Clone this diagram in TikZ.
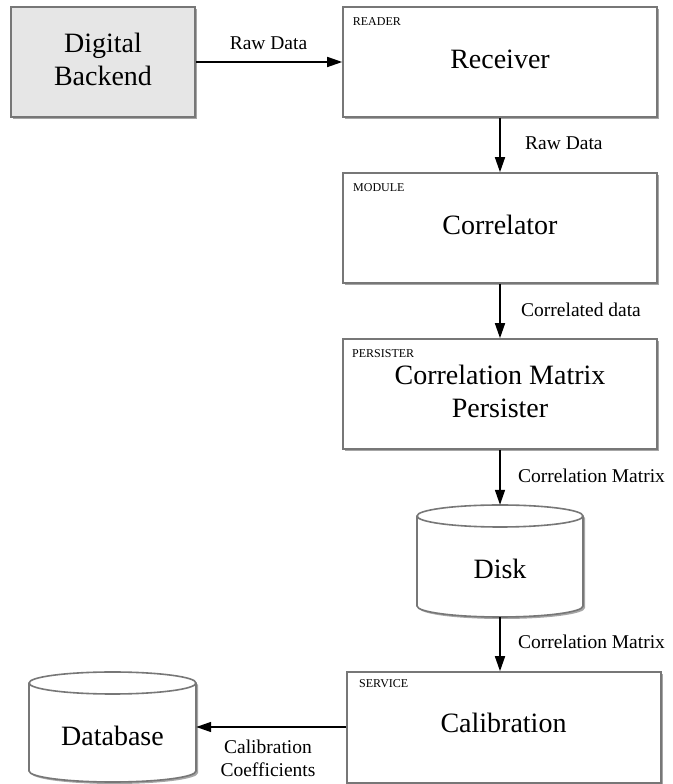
\documentclass[tikz,border=0pt]{standalone}
\usepackage{fontspec}
\setmainfont{Liberation Serif}
\usetikzlibrary{arrows.meta,shadows}
\definecolor{boxgray}{HTML}{777777}
\definecolor{backfill}{HTML}{E6E6E6}
\begin{document}
\begin{tikzpicture}[x=1pt,y=1pt,
  shadowed/.style={drop shadow={shadow xshift=2pt,shadow yshift=-2pt,opacity=0.35,fill=black}},
  comp/.style={draw=boxgray,line width=1.6pt,fill=white,shadowed,
    minimum width=314pt,minimum height=110pt,inner sep=0pt},
  cyl/.style={draw=boxgray,line width=1.6pt,fill=white,shadowed},
  cylline/.style={draw=boxgray,line width=1.6pt},
  anchorbox/.style={inner sep=0pt,minimum width=#1},
  big/.style={font=\fontsize{28}{33}\selectfont,align=center,inner sep=0pt},
  elab/.style={font=\fontsize{19.5}{23}\selectfont,align=center,inner sep=0pt},
  tag/.style={font=\fontsize{12}{14}\selectfont,anchor=west,inner sep=0pt},
  flow/.style={-{Triangle[length=15pt,width=10pt]},line width=1.6pt,black}]
\useasboundingbox (0,0) rectangle (672,784);

% boxes
\node[comp,fill=backfill,minimum width=184pt] (backend) at (103,722) {};
\node[big] (backendt) at (103,725) {Digital\\Backend};

\node[comp] (receiver) at (500,722) {};
\node[tag] (receivertag) at (352.7,762.3) {READER};
\node[big] (receivert) at (500,725) {Receiver};

\node[comp] (correlator) at (500,556) {};
\node[tag] (correlatortag) at (353,596) {MODULE};
\node[big] (correlatort) at (500,559) {Correlator};

\node[comp] (persister) at (500,390) {};
\node[tag] (persistertag) at (352,430) {PERSISTER};
\node[big] (persistert) at (500,392.5) {Correlation Matrix\\Persister};

\node[comp,minimum height=111pt] (calib) at (504,56.5) {};
\node[tag] (calibtag) at (359,100) {SERVICE};
\node[big] (calibt) at (503.5,61) {Calibration};

% Disk cylinder
\node[inner sep=0pt,minimum width=166pt,minimum height=112pt] (disk) at (500,223) {};
\draw[cyl] (417,268) -- (417,178) arc[start angle=180,end angle=360,x radius=83pt,y radius=11pt]
  -- (583,268) arc[start angle=0,end angle=180,x radius=83pt,y radius=11pt] -- cycle;
\draw[cylline] (417,268) arc[start angle=180,end angle=360,x radius=83pt,y radius=11pt];
\node[big] (diskt) at (500,215.5) {Disk};

% Database cylinder
\node[inner sep=0pt,minimum width=167pt,minimum height=110pt] (database) at (112.5,57) {};
\draw[cyl] (29,101) -- (29,13) arc[start angle=180,end angle=360,x radius=83.5pt,y radius=11pt]
  -- (196,101) arc[start angle=0,end angle=180,x radius=83.5pt,y radius=11pt] -- cycle;
\draw[cylline] (29,101) arc[start angle=180,end angle=360,x radius=83.5pt,y radius=11pt];
\node[big] (databaset) at (112.5,48.5) {Database};

% connectors
\draw[flow] (backend.east) -- (receiver.west);
\draw[flow] (receiver.south) -- (correlator.north);
\draw[flow] (correlator.south) -- (persister.north);
\draw[flow] (persister.south) -- (disk.north);
\draw[flow] (disk.south) -- (disk.south |- calib.north);
\draw[flow] (calib.west |- database.east) -- (database.east);

% connector labels
\node[elab] (l1) at (268.5,740.5) {Raw Data};
\node[elab,anchor=west] (l2) at (525,640.5) {Raw Data};
\node[elab,anchor=west] (l3) at (521,474) {Correlated data};
\node[elab,anchor=west] (l4) at (518,308) {Correlation Matrix};
\node[elab,anchor=west] (l5) at (518,142.5) {Correlation Matrix};
\node[elab] (l6) at (268,25.5) {Calibration\\Coefficients};
\end{tikzpicture}
\end{document}
